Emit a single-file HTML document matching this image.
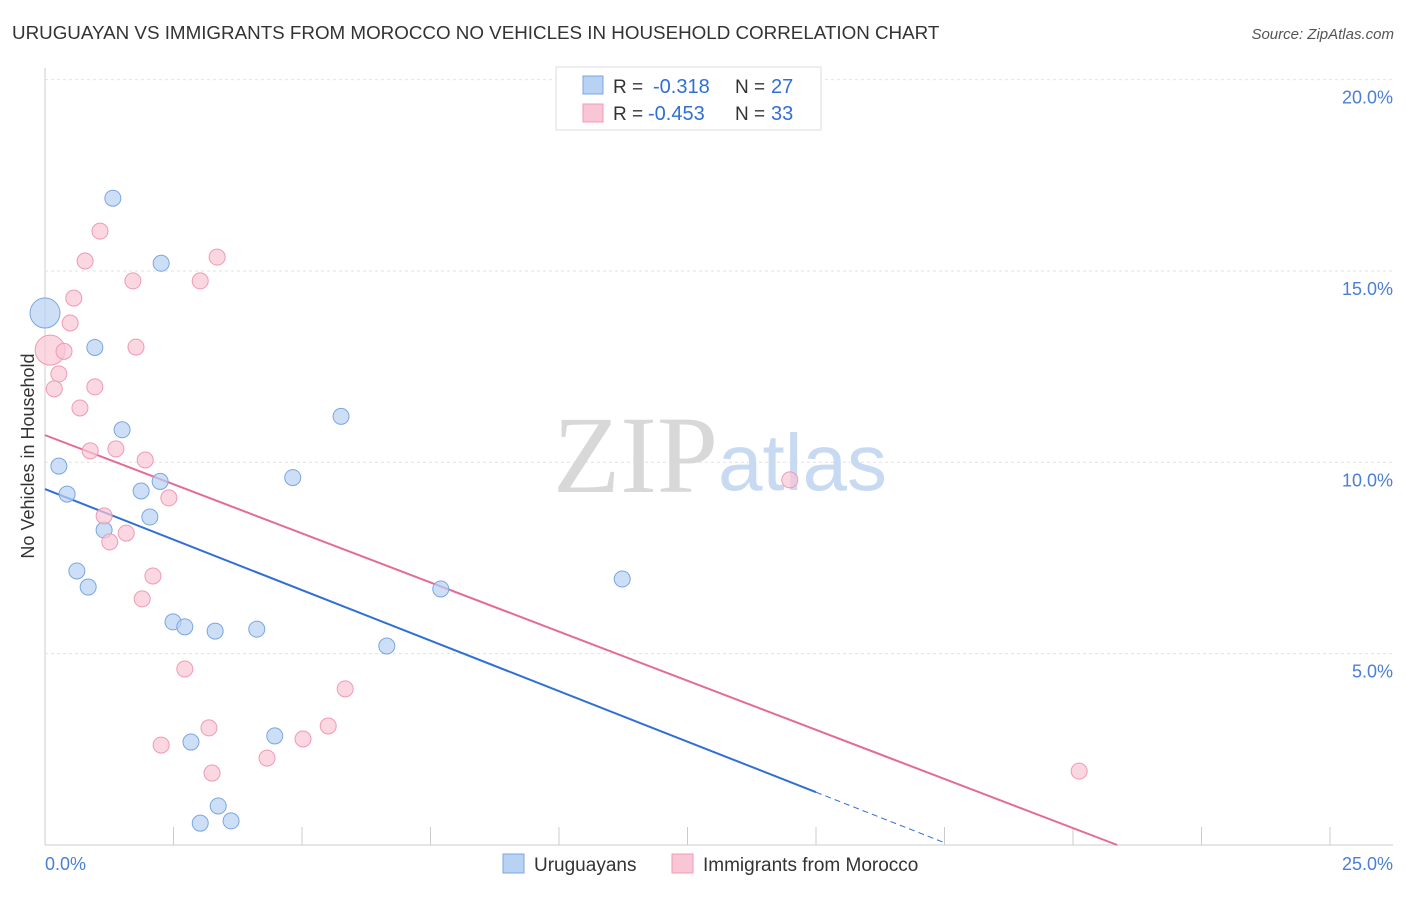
<!DOCTYPE html>
<html><head><meta charset="utf-8"><style>
body{margin:0;background:#fff;font-family:"Liberation Sans",sans-serif;}
</style></head><body>
<svg width="1406" height="892" viewBox="0 0 1406 892" xmlns="http://www.w3.org/2000/svg">
<text x="12" y="39" font-size="18.8" fill="#333">URUGUAYAN VS IMMIGRANTS FROM MOROCCO NO VEHICLES IN HOUSEHOLD CORRELATION CHART</text>
<text x="1394" y="39" font-size="15" fill="#555" font-style="italic" text-anchor="end">Source: ZipAtlas.com</text>
<g id="grid"></g>
<text x="553" y="492" font-size="110" fill="#d8d8d8" font-family="Liberation Serif,serif">ZIP</text>
<text x="718" y="490" font-size="80" fill="#c8daf2">atlas</text>
<g id="lines"></g>
<g id="pts"></g>
<text transform="translate(34,456) rotate(-90)" font-size="18" fill="#333" text-anchor="middle">No Vehicles in Household</text>
<text x="45" y="870" font-size="18" fill="#4a7fd4">0.0%</text>
<text x="1393" y="870" font-size="18" fill="#4a7fd4" text-anchor="end">25.0%</text>
<g>
<rect x="556" y="67" width="265" height="63" fill="#fff" stroke="#ddd"/>
<rect x="583" y="76" width="20" height="18" fill="#b8d2f4" stroke="#7aa6e0"/>
<rect x="583" y="104" width="20" height="18" fill="#f9c6d6" stroke="#f099b5"/>
<text x="613" y="93" font-size="19" fill="#333">R =</text>
<text x="653" y="93" font-size="20" fill="#2f6fd6">-0.318</text>
<text x="735" y="93" font-size="19" fill="#333">N =</text>
<text x="771" y="93" font-size="20" fill="#2f6fd6">27</text>
<text x="613" y="120" font-size="19" fill="#333">R =</text>
<text x="648" y="120" font-size="20" fill="#2f6fd6">-0.453</text>
<text x="735" y="120" font-size="19" fill="#333">N =</text>
<text x="771" y="120" font-size="20" fill="#2f6fd6">33</text>
</g>
<g>
<rect x="503" y="854" width="21" height="19" fill="#b8d2f4" stroke="#7aa6e0"/>
<text x="534" y="871" font-size="19" fill="#333">Uruguayans</text>
<rect x="672" y="854" width="21" height="19" fill="#f9c6d6" stroke="#f099b5"/>
<text x="703" y="871" font-size="19" fill="#333">Immigrants from Morocco</text>
</g>
</svg>
<script>
const yTicks=[5,10,15,20];
const yTickLabels=["5.0%","10.0%","15.0%","20.0%"];
const blueX=[0,1.32,2.26,0.97,1.50,0.27,0.43,2.24,1.87,2.04,1.15,0.62,0.84,4.82,5.76,7.70,11.23,6.65,2.49,2.72,3.31,4.12,4.47,2.84,3.37,3.62,3.02];
const blueY=[13.9,16.9,15.2,13.0,10.85,9.9,9.17,9.5,9.25,8.57,8.23,7.16,6.74,9.6,11.2,6.69,6.95,5.2,5.83,5.7,5.59,5.64,2.85,2.69,1.02,0.63,0.57];
const pinkX=[1.07,0.78,3.35,1.71,3.02,0.56,0.49,0.1,0.37,1.77,0.27,0.18,0.97,0.68,0.88,1.38,1.95,2.41,1.15,1.58,1.26,2.10,1.89,2.72,5.84,3.19,5.51,5.02,2.26,4.32,3.25,14.49,20.12];
const pinkY=[16.04,15.26,15.36,14.74,14.74,14.29,13.64,12.93,12.9,13.01,12.31,11.92,11.97,11.42,10.3,10.35,10.06,9.07,8.6,8.15,7.92,7.03,6.43,4.6,4.08,3.06,3.11,2.77,2.61,2.27,1.88,9.54,1.93];
const blueTrend=[9.3,-0.528];
const pinkTrend=[10.71,-0.5134];
const NS="http://www.w3.org/2000/svg";
const X=v=>45+v*51.4, Y=v=>845-v*38.27;
function mk(tag,attrs,parent){const e=document.createElementNS(NS,tag);for(const k in attrs)e.setAttribute(k,attrs[k]);document.getElementById(parent).appendChild(e);return e;}
let e;
e=mk('line',{x1:45,x2:45,y1:68,y2:845,stroke:'#ccc'},'grid');


e=mk('line',{x1:45,x2:1393,y1:845,y2:845,stroke:'#ccc'},'grid');


for(let i=0;i<=10;i++){e=mk('line',{x1:X(i*2.5),x2:X(i*2.5),y1:827,y2:845,stroke:'#ccc'},'grid');

}
yTicks.forEach((t,i)=>{e=mk('line',{x1:45,x2:1393,y1:Y(t),y2:Y(t),stroke:'#e2e2e2','stroke-dasharray':'3,3'},'grid');


e=mk('text',{x:1393,y:Y(t)+24,'font-size':18,fill:'#4a7fd4','text-anchor':'end'},'grid');e.textContent=yTickLabels[i];

});
function pts(xs,ys,fill,stroke,name,big){xs.forEach((x,i)=>{e=mk('circle',{cx:X(x),cy:Y(ys[i]),r:i===big?15:8,fill:fill,'fill-opacity':0.7,stroke:stroke,'stroke-width':1},'pts');

});}
pts(blueX,blueY,'#b8d2f4','#7aa6e0','uruguayan-point',0);
pts(pinkX,pinkY,'#f9c6d6','#f099b5','morocco-point',7);
e=mk('line',{x1:X(0),y1:Y(blueTrend[0]),x2:X(15),y2:Y(blueTrend[0]+blueTrend[1]*15),stroke:'#2f6fd6','stroke-width':2},'lines');


e=mk('line',{x1:X(15),y1:Y(blueTrend[0]+blueTrend[1]*15),x2:X(17.5),y2:Y(blueTrend[0]+blueTrend[1]*17.5),stroke:'#2f6fd6','stroke-width':1,'stroke-dasharray':'6,4'},'lines');


const pz=-pinkTrend[0]/pinkTrend[1];
e=mk('line',{x1:X(0),y1:Y(pinkTrend[0]),x2:X(pz),y2:Y(0),stroke:'#e46b96','stroke-width':2},'lines');


</script>
</body></html>
